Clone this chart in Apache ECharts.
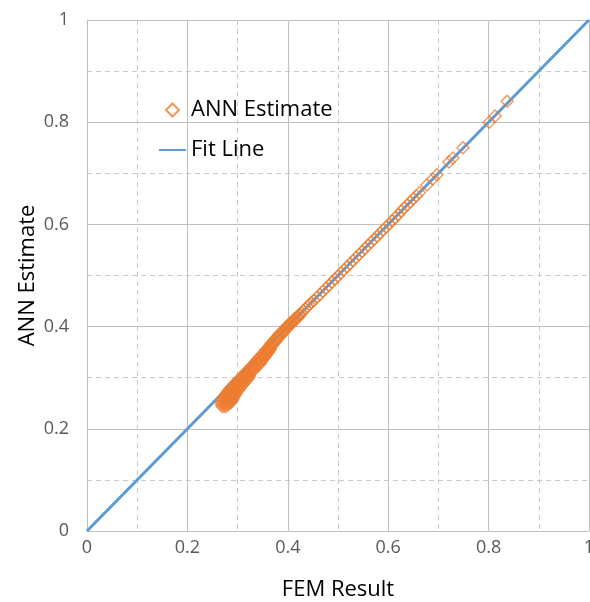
<!DOCTYPE html>
<html><head><meta charset="utf-8">
<script src="https://cdn.jsdelivr.net/npm/echarts@6/dist/echarts.min.js"></script>
<style>html,body{margin:0;padding:0;background:#fff;overflow:hidden}#c{width:590px;height:602px}</style>
</head><body><div id="c"></div>
<script>
const xTicks = [0, 0.2, 0.4, 0.6, 0.8, 1];
const yTicks = [0, 0.2, 0.4, 0.6, 0.8, 1];
const femResult = [
0.270,0.276,
0.268,0.275,0.281,
0.268,0.274,0.281,0.286,
0.269,0.276,0.283,0.289,
0.271,0.278,0.285,0.291,
0.273,0.280,0.287,0.293,
0.276,0.283,0.290,0.296,
0.279,0.286,0.292,0.298,
0.282,0.289,0.295,0.301,
0.285,0.292,0.298,0.304,
0.289,0.295,0.301,0.307,
0.293,0.299,0.305,0.311,
0.297,0.303,0.309,0.314,
0.301,0.307,0.313,0.318,
0.305,0.311,0.316,0.321,
0.309,0.315,0.320,0.324,
0.313,0.319,0.324,
0.317,0.323,0.328,
0.321,0.327,0.332,
0.325,0.331,0.336,
0.329,0.334,0.340,
0.332,0.338,0.344,
0.336,0.342,0.347,
0.339,0.345,0.350,
0.343,0.349,0.353,
0.347,0.352,0.356,
0.350,0.355,0.359,
0.354,0.359,0.362,
0.357,0.362,0.365,
0.361,0.366, 0.364,0.369, 0.367,0.372, 0.371,0.376, 0.374,0.379, 0.378,0.382,
0.381,0.386, 0.385,0.390, 0.389,0.393, 0.393,0.397, 0.397,0.401, 0.401,0.405,
0.405,0.409, 0.409,0.413, 0.413,0.417, 0.418,0.421, 0.422,0.425,
0.427,0.431,0.435,0.439,0.443,0.447,
0.452,0.458,0.464,0.470,0.476,0.482,0.488,0.494,0.500,0.506,0.512,0.518,0.524,0.530,0.536,0.542,0.548,0.554,0.560,0.566,
0.572,0.578,0.584,0.590,0.596,0.602,0.608,0.614,0.620,0.626,0.632,0.638,0.644,0.650,0.656,0.662,
0.677,0.689,0.697,0.721,0.729,0.749,0.801,0.813,0.837
];
const annEstimate = [
0.243,0.243,
0.247,0.247,0.247,
0.251,0.251,0.251,0.251,
0.255,0.255,0.255,0.255,
0.259,0.259,0.259,0.259,
0.263,0.263,0.263,0.263,
0.267,0.267,0.267,0.267,
0.271,0.271,0.271,0.271,
0.275,0.275,0.275,0.275,
0.279,0.279,0.279,0.279,
0.283,0.283,0.283,0.283,
0.287,0.287,0.287,0.287,
0.291,0.291,0.291,0.291,
0.295,0.295,0.295,0.295,
0.299,0.299,0.299,0.299,
0.303,0.303,0.303,0.303,
0.307,0.307,0.307,
0.311,0.311,0.311,
0.315,0.315,0.315,
0.319,0.319,0.319,
0.323,0.323,0.323,
0.327,0.327,0.327,
0.331,0.331,0.331,
0.335,0.335,0.335,
0.339,0.339,0.339,
0.343,0.343,0.343,
0.347,0.347,0.347,
0.351,0.351,0.351,
0.355,0.355,0.355,
0.359,0.359, 0.363,0.363, 0.367,0.367, 0.371,0.371, 0.375,0.375, 0.379,0.379,
0.383,0.383, 0.387,0.387, 0.391,0.391, 0.395,0.395, 0.399,0.399, 0.403,0.403,
0.407,0.407, 0.411,0.411, 0.415,0.415, 0.419,0.419, 0.423,0.423,
0.427,0.431,0.435,0.439,0.443,0.447,
0.451,0.457,0.463,0.469,0.475,0.481,0.487,0.493,0.499,0.505,0.511,0.517,0.523,0.529,0.535,0.541,0.547,0.553,0.559,0.565,
0.571,0.577,0.583,0.589,0.595,0.601,0.607,0.613,0.619,0.626,0.632,0.638,0.644,0.650,0.656,0.662,
0.677,0.689,0.697,0.722,0.730,0.750,0.800,0.812,0.841
];
const fitX = [0, 1];
const fitY = [0, 1];

const chart = echarts.init(document.getElementById('c'), null, {renderer:'canvas'});
const font = "'Open Sans', 'Liberation Sans', sans-serif";
const axisCommon = (name, ticks) => ({
  type:'value', min: ticks[0], max: ticks[ticks.length-1], interval: 0.2,
  name: name, nameLocation:'middle', nameMoveOverlap:false,
  nameTextStyle:{color:'#000', fontSize:22, fontFamily:font},
  axisLine:{show:true, lineStyle:{color:'#bfbfbf', width:1}},
  axisTick:{show:false},
  axisLabel:{color:'#595959', fontSize:18, fontFamily:font, formatter: v => String(+v.toFixed(2))},
  splitLine:{show:true, lineStyle:{color:'#bfbfbf', width:1}},
  minorTick:{show:false, splitNumber:2},
  minorSplitLine:{show:true, lineStyle:{color:'#c8c8c8', width:1, type:[5,4]}}
});
const xAxis = axisCommon('FEM Result', xTicks);
xAxis.nameGap = 48; xAxis.axisLabel.margin = 8;
const yAxis = axisCommon('ANN Estimate', yTicks);
yAxis.nameGap = 48; yAxis.axisLabel.margin = 18;

chart.setOption({
  animation:false,
  backgroundColor:'#fff',
  grid:{left:87, top:20, width:502, height:511, containLabel:false, outerBoundsMode:'none'},
  xAxis: xAxis,
  yAxis: yAxis,
  legend:{
    orient:'vertical', left:153, top:94, itemGap:18, itemWidth:27, itemHeight:13,
    textStyle:{color:'#000', fontSize:22, lineHeight:22, fontFamily:font},
    data:[
      {name:'ANN Estimate', icon:'path://M0,0M27,13M7,6.5L13.5,0L20,6.5L13.5,13Z'},
      {name:'Fit Line', itemStyle:{opacity:0}}
    ]
  },
  series:[
    {name:'Fit Line', type:'line', data: fitX.map((x,i)=>[x, fitY[i]]),
     symbol:'none', lineStyle:{color:'#5b9bd5', width:3}, itemStyle:{color:'#5b9bd5'}, z:2},
    {name:'ANN Estimate', type:'scatter', symbol:'diamond', symbolSize:12,
     data: femResult.map((x,i)=>[x, annEstimate[i]]),
     itemStyle:{color:'rgba(255,255,255,0)', borderColor:'#ed7d31', borderWidth:1.4}, z:3}
  ]
});
</script></body></html>
